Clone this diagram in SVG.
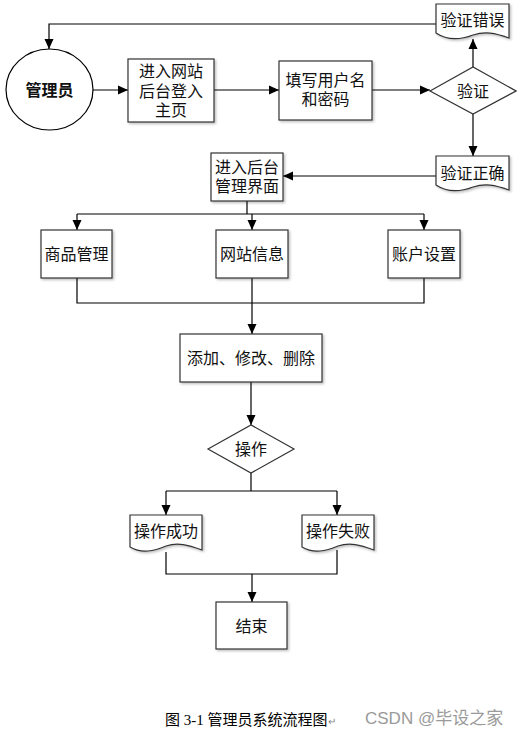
<svg xmlns="http://www.w3.org/2000/svg" width="517" height="732" viewBox="0 0 517 732">
<defs>
<marker id="arr" markerWidth="11" markerHeight="10" refX="10" refY="5" orient="auto" markerUnits="userSpaceOnUse">
<path d="M0,0.5 L10,5 L0,9.5 Z" fill="#000"/>
</marker>
<filter id="sh" x="-10%" y="-10%" width="130%" height="130%">
<feDropShadow dx="1.5" dy="1.5" stdDeviation="0.8" flood-color="#000" flood-opacity="0.25"/>
</filter>
</defs>
<style>
.box{fill:#fff;stroke:#333;stroke-width:1.2;filter:url(#sh)}
.ln{fill:none;stroke:#000;stroke-width:1.2}
.ar{marker-end:url(#arr)}
.t{font-family:"Liberation Sans","Noto Sans CJK SC",sans-serif;font-size:16px;fill:#111;text-anchor:middle;dominant-baseline:central}
.b{font-weight:bold}
.cap{font-family:"Liberation Serif","Noto Sans CJK SC",serif;font-size:15px;fill:#000}
.wm{font-family:"Liberation Sans","Noto Sans CJK SC",sans-serif;font-size:17px;fill:#9a9a9a}
</style>
<rect width="517" height="732" fill="#fff"/>
<g id="connectors">
<path class="ln ar" d="M93,90 H128"/>
<path class="ln ar" d="M214,90 H279"/>
<path class="ln ar" d="M372,90 H430"/>
<path class="ln ar" d="M473,67 V39"/>
<path class="ln ar" d="M436,24 H49 V49"/>
<path class="ln ar" d="M473,114 V156"/>
<path class="ln ar" d="M436,176 H283"/>
<path class="ln" d="M247,201 V214 M77,214 H424"/>
<path class="ln ar" d="M77,214 V230"/>
<path class="ln ar" d="M252,214 V230"/>
<path class="ln ar" d="M424,214 V230"/>
<path class="ln" d="M77,278 V303 H424 V278"/>
<path class="ln ar" d="M252,278 V334"/>
<path class="ln ar" d="M251,382 V425"/>
<path class="ln" d="M251,473 V491 M166,491 H337"/>
<path class="ln ar" d="M166,491 V515"/>
<path class="ln ar" d="M337,491 V515"/>
<path class="ln" d="M166,552 V574 H337 V550"/>
<path class="ln ar" d="M252,574 V602"/>
</g>
<g id="admin">
<ellipse cx="49.5" cy="89.5" rx="43.5" ry="40.5" fill="#fff" stroke="#000" stroke-width="1.2"/>
<text class="t b" x="49.5" y="90">管理员</text>
</g>
<g id="login">
<rect class="box" x="128" y="59" width="86" height="63"/>
<text class="t" x="171" y="71.5">进入网站<tspan x="171" dy="19">后台登入</tspan><tspan x="171" dy="19">主页</tspan></text>
</g>
<g id="fill">
<rect class="box" x="279" y="61" width="93" height="59"/>
<text class="t" x="325.5" y="80">填写用户名<tspan x="325.5" dy="19">和密码</tspan></text>
</g>
<g id="verify">
<path d="M430,91 L473,67 L516,91 L473,114 Z" fill="#fff" stroke="#333" stroke-width="1.2"/>
<text class="t" x="473" y="91">验证</text>
</g>
<g id="verifyErr">
<path class="box" d="M436,4 H509 V38 C495,33 485,31 473,35 C460,40 448,41 436,33 Z"/>
<text class="t" x="472.5" y="20">验证错误</text>
</g>
<g id="verifyOk">
<path class="box" d="M436,156 H509 V190 C495,185 485,183 473,187 C460,192 448,193 436,185 Z"/>
<text class="t" x="472.5" y="173">验证正确</text>
</g>
<g id="backend">
<rect class="box" x="211" y="153" width="72" height="48"/>
<text class="t" x="247" y="167">进入后台<tspan x="247" dy="19">管理界面</tspan></text>
</g>
<g id="goods">
<rect class="box" x="41" y="230" width="71" height="48"/>
<text class="t" x="76.5" y="254">商品管理</text>
</g>
<g id="siteinfo">
<rect class="box" x="216" y="230" width="72" height="48"/>
<text class="t" x="252" y="254">网站信息</text>
</g>
<g id="account">
<rect class="box" x="388" y="230" width="72" height="48"/>
<text class="t" x="424" y="254">账户设置</text>
</g>
<g id="edit">
<rect class="box" x="180" y="334" width="142" height="48"/>
<text class="t" x="251" y="358">添加、修改、删除</text>
</g>
<g id="operate">
<path d="M208,449 L251,425 L294,449 L251,473 Z" fill="#fff" stroke="#333" stroke-width="1.2"/>
<text class="t" x="251" y="449">操作</text>
</g>
<g id="success">
<path class="box" d="M130,515 H202 V550 C188,545 178,542 166,546 C154,551 142,554 130,547 Z"/>
<text class="t" x="166" y="531">操作成功</text>
</g>
<g id="fail">
<path class="box" d="M302,515 H374 V550 C360,545 350,542 338,546 C326,551 314,554 302,547 Z"/>
<text class="t" x="338" y="531">操作失败</text>
</g>
<g id="end">
<rect class="box" x="216" y="602" width="71" height="47"/>
<text class="t" x="251.5" y="626">结束</text>
</g>
<g id="caption">
<text class="cap" x="165" y="725">图 3-1 管理员系统流程图<tspan font-size="10" fill="#888">↵</tspan></text>
<text class="wm" x="365" y="724">CSDN @毕设之家</text>
</g>
</svg>
